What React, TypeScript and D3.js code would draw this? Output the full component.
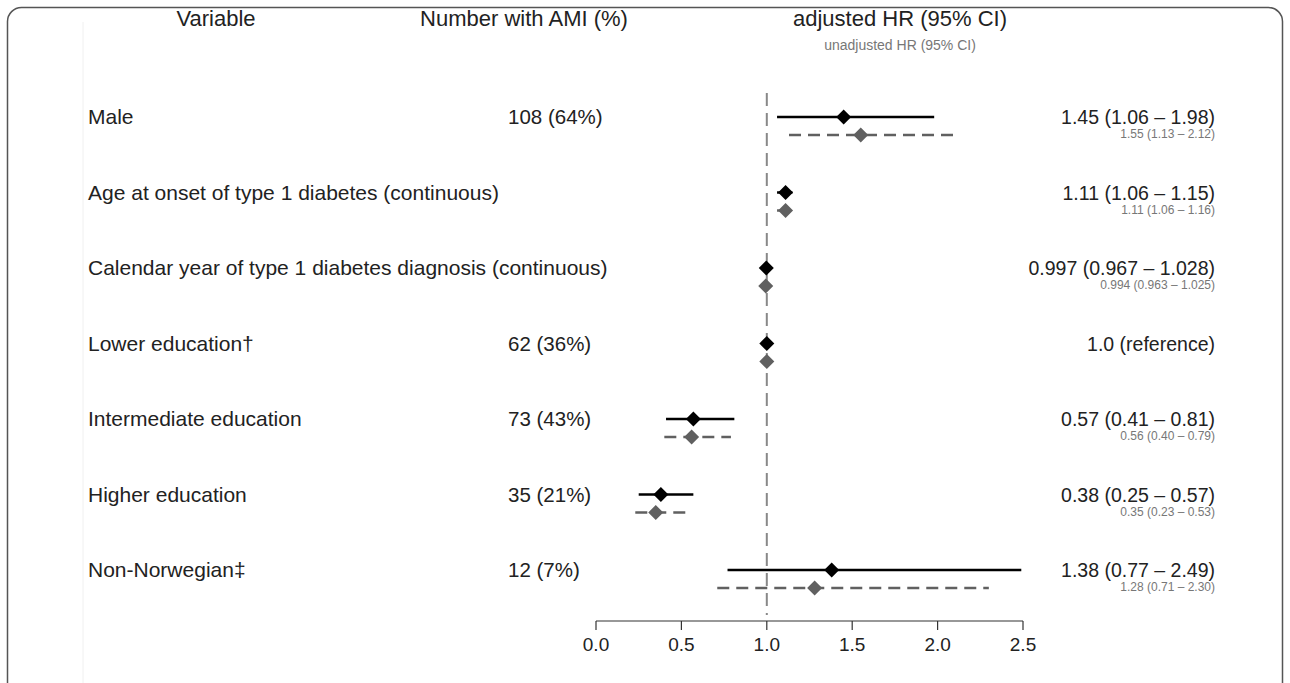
import React from "react";
import * as d3 from "d3";

const variables = [
  "Male",
  "Age at onset of type 1 diabetes (continuous)",
  "Calendar year of type 1 diabetes diagnosis (continuous)",
  "Lower education†",
  "Intermediate education",
  "Higher education",
  "Non-Norwegian‡",
];
const counts = ["108 (64%)", "", "", "62 (36%)", "73 (43%)", "35 (21%)", "12 (7%)"];

const adjHR = [1.45, 1.11, 0.997, 1.0, 0.57, 0.38, 1.38];
const adjLo = [1.06, 1.06, 0.967, 1.0, 0.41, 0.25, 0.77];
const adjHi = [1.98, 1.15, 1.028, 1.0, 0.81, 0.57, 2.49];

const unadjHR = [1.55, 1.11, 0.994, 1.0, 0.56, 0.35, 1.28];
const unadjLo = [1.13, 1.06, 0.963, 1.0, 0.4, 0.23, 0.71];
const unadjHi = [2.12, 1.16, 1.025, 1.0, 0.79, 0.53, 2.3];

const adjText = [
  "1.45 (1.06 – 1.98)",
  "1.11 (1.06 – 1.15)",
  "0.997 (0.967 – 1.028)",
  "1.0 (reference)",
  "0.57 (0.41 – 0.81)",
  "0.38 (0.25 – 0.57)",
  "1.38 (0.77 – 2.49)",
];
const unadjText = [
  "1.55 (1.13 – 2.12)",
  "1.11 (1.06 – 1.16)",
  "0.994 (0.963 – 1.025)",
  "",
  "0.56 (0.40 – 0.79)",
  "0.35 (0.23 – 0.53)",
  "1.28 (0.71 – 2.30)",
];

const xTicks = [0, 0.5, 1.0, 1.5, 2.0, 2.5];

const width = 1290;
const height = 683;
const font = "'Liberation Sans', Arial, sans-serif";

const diamond = (cx: number, cy: number, r: number) =>
  `M${cx},${cy - r}L${cx + r},${cy}L${cx},${cy + r}L${cx - r},${cy}Z`;

export default function App() {
  const x = d3.scaleLinear().domain([0, 2.5]).range([596, 1023]);
  const y = d3
    .scalePoint<number>()
    .domain(d3.range(variables.length))
    .range([117, 570]);
  const axisY = 621;
  const gray = "#606060";

  return (
    <svg
      width={width}
      height={height}
      style={{ position: "absolute", left: 0, top: 0 }}
      fontFamily={font}
    >
      <rect width={width} height={height} fill="#fff" />
      <rect
        x={7.5}
        y={7.5}
        width={1275}
        height={720}
        rx={14}
        fill="none"
        stroke="#555"
        strokeWidth={1.5}
      />
      <line x1={83} x2={83} y1={22} y2={683} stroke="#f0f0f0" />

      {/* headers */}
      <text x={216} y={26} fontSize={22} textAnchor="middle" fill="#222">
        Variable
      </text>
      <text x={524} y={26} fontSize={22} textAnchor="middle" fill="#222">
        Number with AMI (%)
      </text>
      <text x={900} y={26} fontSize={22} textAnchor="middle" fill="#222">
        adjusted HR (95% CI)
      </text>
      <text x={900} y={50} fontSize={14} textAnchor="middle" fill="#777">
        unadjusted HR (95% CI)
      </text>

      {/* reference line */}
      <line
        x1={x(1)}
        x2={x(1)}
        y1={93}
        y2={axisY - 6}
        stroke="#888"
        strokeWidth={2}
        strokeDasharray="13,7"
      />

      {variables.map((v, i) => {
        const yy = y(i) as number;
        return (
          <g key={i}>
            <text x={88} y={yy + 7} fontSize={21} fill="#222">
              {v}
            </text>
            <text x={508} y={yy + 7} fontSize={20.5} fill="#222">
              {counts[i]}
            </text>
            <line
              x1={x(adjLo[i])}
              x2={x(adjHi[i])}
              y1={yy}
              y2={yy}
              stroke="#000"
              strokeWidth={2.5}
            />
            <path d={diamond(x(adjHR[i]), yy, 7.5)} fill="#000" />
            <line
              x1={x(unadjLo[i])}
              x2={x(unadjHi[i])}
              y1={yy + 18}
              y2={yy + 18}
              stroke={gray}
              strokeWidth={2.5}
              strokeDasharray="12,7"
            />
            <path d={diamond(x(unadjHR[i]), yy + 18, 7.5)} fill={gray} />
            <text
              x={1215}
              y={yy + 7}
              fontSize={19.5}
              textAnchor="end"
              fill="#222"
            >
              {adjText[i]}
            </text>
            <text
              x={1215}
              y={yy + 21}
              fontSize={12}
              textAnchor="end"
              fill="#777"
            >
              {unadjText[i]}
            </text>
          </g>
        );
      })}

      {/* x axis */}
      <line x1={x(0)} x2={x(2.5)} y1={axisY} y2={axisY} stroke="#333" strokeWidth={1.2} />
      {xTicks.map((t) => (
        <g key={t}>
          <line x1={x(t)} x2={x(t)} y1={axisY} y2={axisY + 9} stroke="#333" strokeWidth={1.2} />
          <text
            x={x(t)}
            y={axisY + 30}
            fontSize={19}
            textAnchor="middle"
            fill="#222"
          >
            {d3.format(".1f")(t)}
          </text>
        </g>
      ))}
    </svg>
  );
}
